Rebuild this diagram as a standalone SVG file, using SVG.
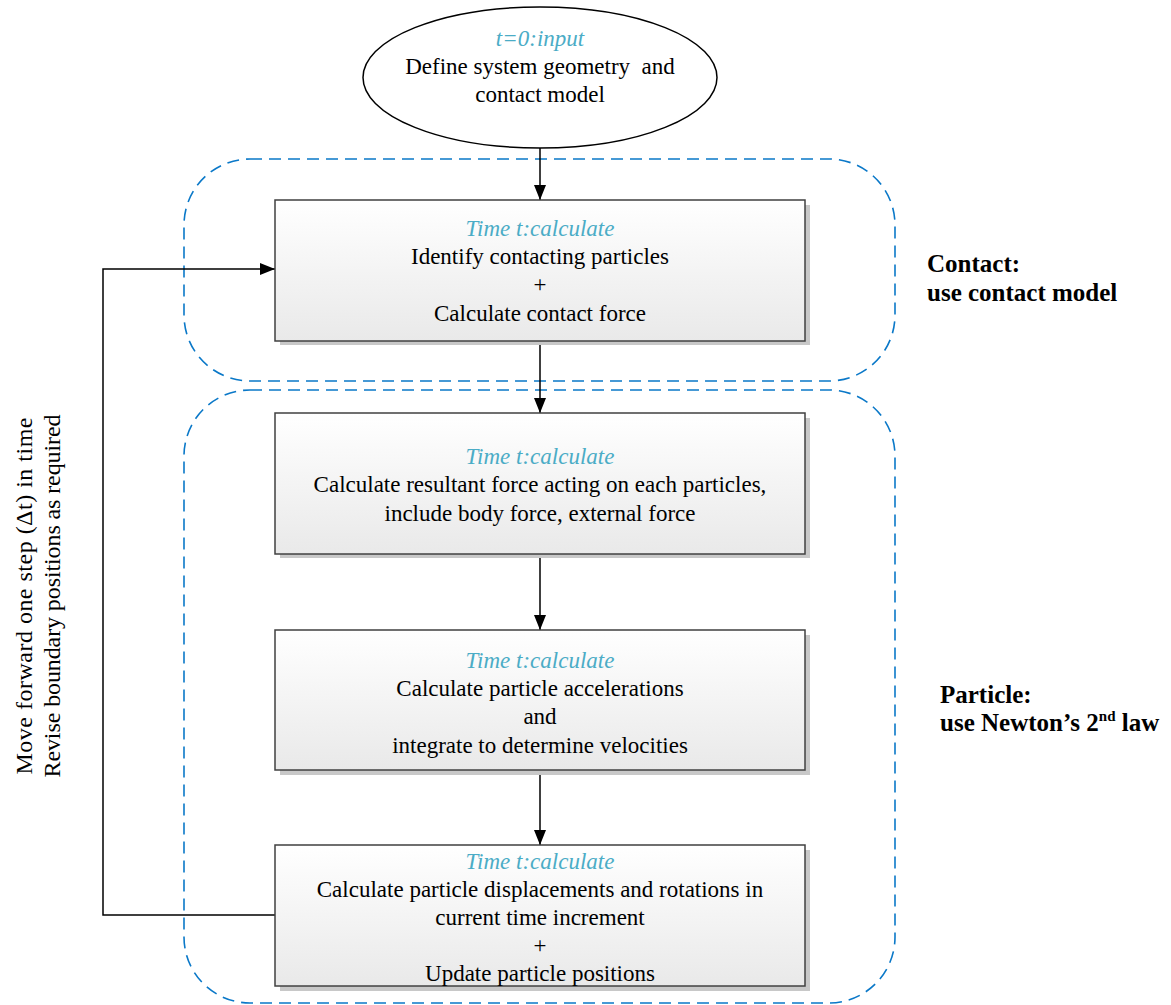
<svg xmlns="http://www.w3.org/2000/svg" width="1171" height="1005" viewBox="0 0 1171 1005" font-family="'Liberation Serif', 'Times New Roman', serif">
<style>
text{font-family:'Liberation Serif','Times New Roman',serif}
.t{font-size:23px;fill:#000;text-anchor:middle}
.h{font-size:23px;fill:#4BACC6;font-style:italic;text-anchor:middle}
.l{font-size:24px;fill:#000;text-anchor:middle}
.b{font-size:25px;font-weight:bold;fill:#000}
.box{fill:url(#g);stroke:#404040;stroke-width:1.5}
.sh{fill:#c8c8c8}
.grp{fill:none;stroke:#0A78C8;stroke-width:1.6;stroke-dasharray:12 7}
.c{fill:none;stroke:#000;stroke-width:1.5}
</style>
<defs>
<linearGradient id="g" x1="0" y1="0" x2="0" y2="1">
<stop offset="0" stop-color="#ffffff"/>
<stop offset="1" stop-color="#e9e9e9"/>
</linearGradient>
<marker id="ah" viewBox="0 0 15 12" refX="15" refY="6" markerWidth="15" markerHeight="12" markerUnits="userSpaceOnUse" orient="auto">
<path d="M0,0 L15,6 L0,12 Z" fill="#000"/>
</marker>
</defs>
<rect id="contact-group" class="grp" x="184" y="159" width="711" height="222" rx="66" ry="66"/>
<rect id="particle-group" class="grp" x="184" y="390" width="711" height="613" rx="66" ry="66"/>
<g id="connectors">
<line class="c" x1="540" y1="148" x2="540" y2="200" marker-end="url(#ah)"/>
<line class="c" x1="540" y1="341" x2="540" y2="413" marker-end="url(#ah)"/>
<line class="c" x1="540" y1="554" x2="540" y2="630" marker-end="url(#ah)"/>
<line class="c" x1="540" y1="770" x2="540" y2="845" marker-end="url(#ah)"/>
<polyline class="c" points="275,915 103,915 103,269 275,269" marker-end="url(#ah)"/>
</g>
<g id="start">
<ellipse cx="540" cy="77.5" rx="177" ry="70.5" fill="#fff" stroke="#000" stroke-width="1.5"/>
<text class="h" x="540" y="46">t=0:input</text>
<text class="t" x="540" y="74">Define system geometry&#160; and</text>
<text class="t" x="540" y="102">contact model</text>
</g>
<g id="box1">
<rect class="sh" x="280" y="205" width="530" height="140"/>
<rect class="box" x="275" y="200" width="530" height="141"/>
<text class="h" x="540" y="236">Time t:calculate</text>
<text class="t" x="540" y="264">Identify contacting particles</text>
<text class="t" x="540" y="292">+</text>
<text class="t" x="540" y="321">Calculate contact force</text>
</g>
<g id="box2">
<rect class="sh" x="280" y="418" width="530" height="140"/>
<rect class="box" x="275" y="413" width="530" height="141"/>
<text class="h" x="540" y="464">Time t:calculate</text>
<text class="t" x="540" y="492">Calculate resultant force acting on each particles,</text>
<text class="t" x="540" y="521">include body force, external force</text>
</g>
<g id="box3">
<rect class="sh" x="280" y="635" width="530" height="140"/>
<rect class="box" x="275" y="630" width="530" height="140"/>
<text class="h" x="540" y="668">Time t:calculate</text>
<text class="t" x="540" y="696">Calculate particle accelerations</text>
<text class="t" x="540" y="724">and</text>
<text class="t" x="540" y="753">integrate to determine velocities</text>
</g>
<g id="box4">
<rect class="sh" x="280" y="850" width="530" height="141"/>
<rect class="box" x="275" y="845" width="530" height="141"/>
<text class="h" x="540" y="869">Time t:calculate</text>
<text class="t" x="540" y="897">Calculate particle displacements and rotations in</text>
<text class="t" x="540" y="925">current time increment</text>
<text class="t" x="540" y="953">+</text>
<text class="t" x="540" y="981">Update particle positions</text>
</g>
<g id="loop-label">
<text class="l" transform="translate(32,596) rotate(-90)" x="0" y="0" textLength="357">Move forward one step (Δt) in time</text>
<text class="l" transform="translate(60,596) rotate(-90)" x="0" y="0" textLength="363">Revise boundary positions as required</text>
</g>
<g id="contact-label">
<text class="b" x="927" y="272">Contact:</text>
<text class="b" x="927" y="301">use contact model</text>
</g>
<g id="particle-label">
<text class="b" x="940" y="703">Particle:</text>
<text class="b" x="940" y="731">use Newton’s 2<tspan font-size="15" dy="-10">nd</tspan><tspan dy="10"> law</tspan></text>
</g>
</svg>
